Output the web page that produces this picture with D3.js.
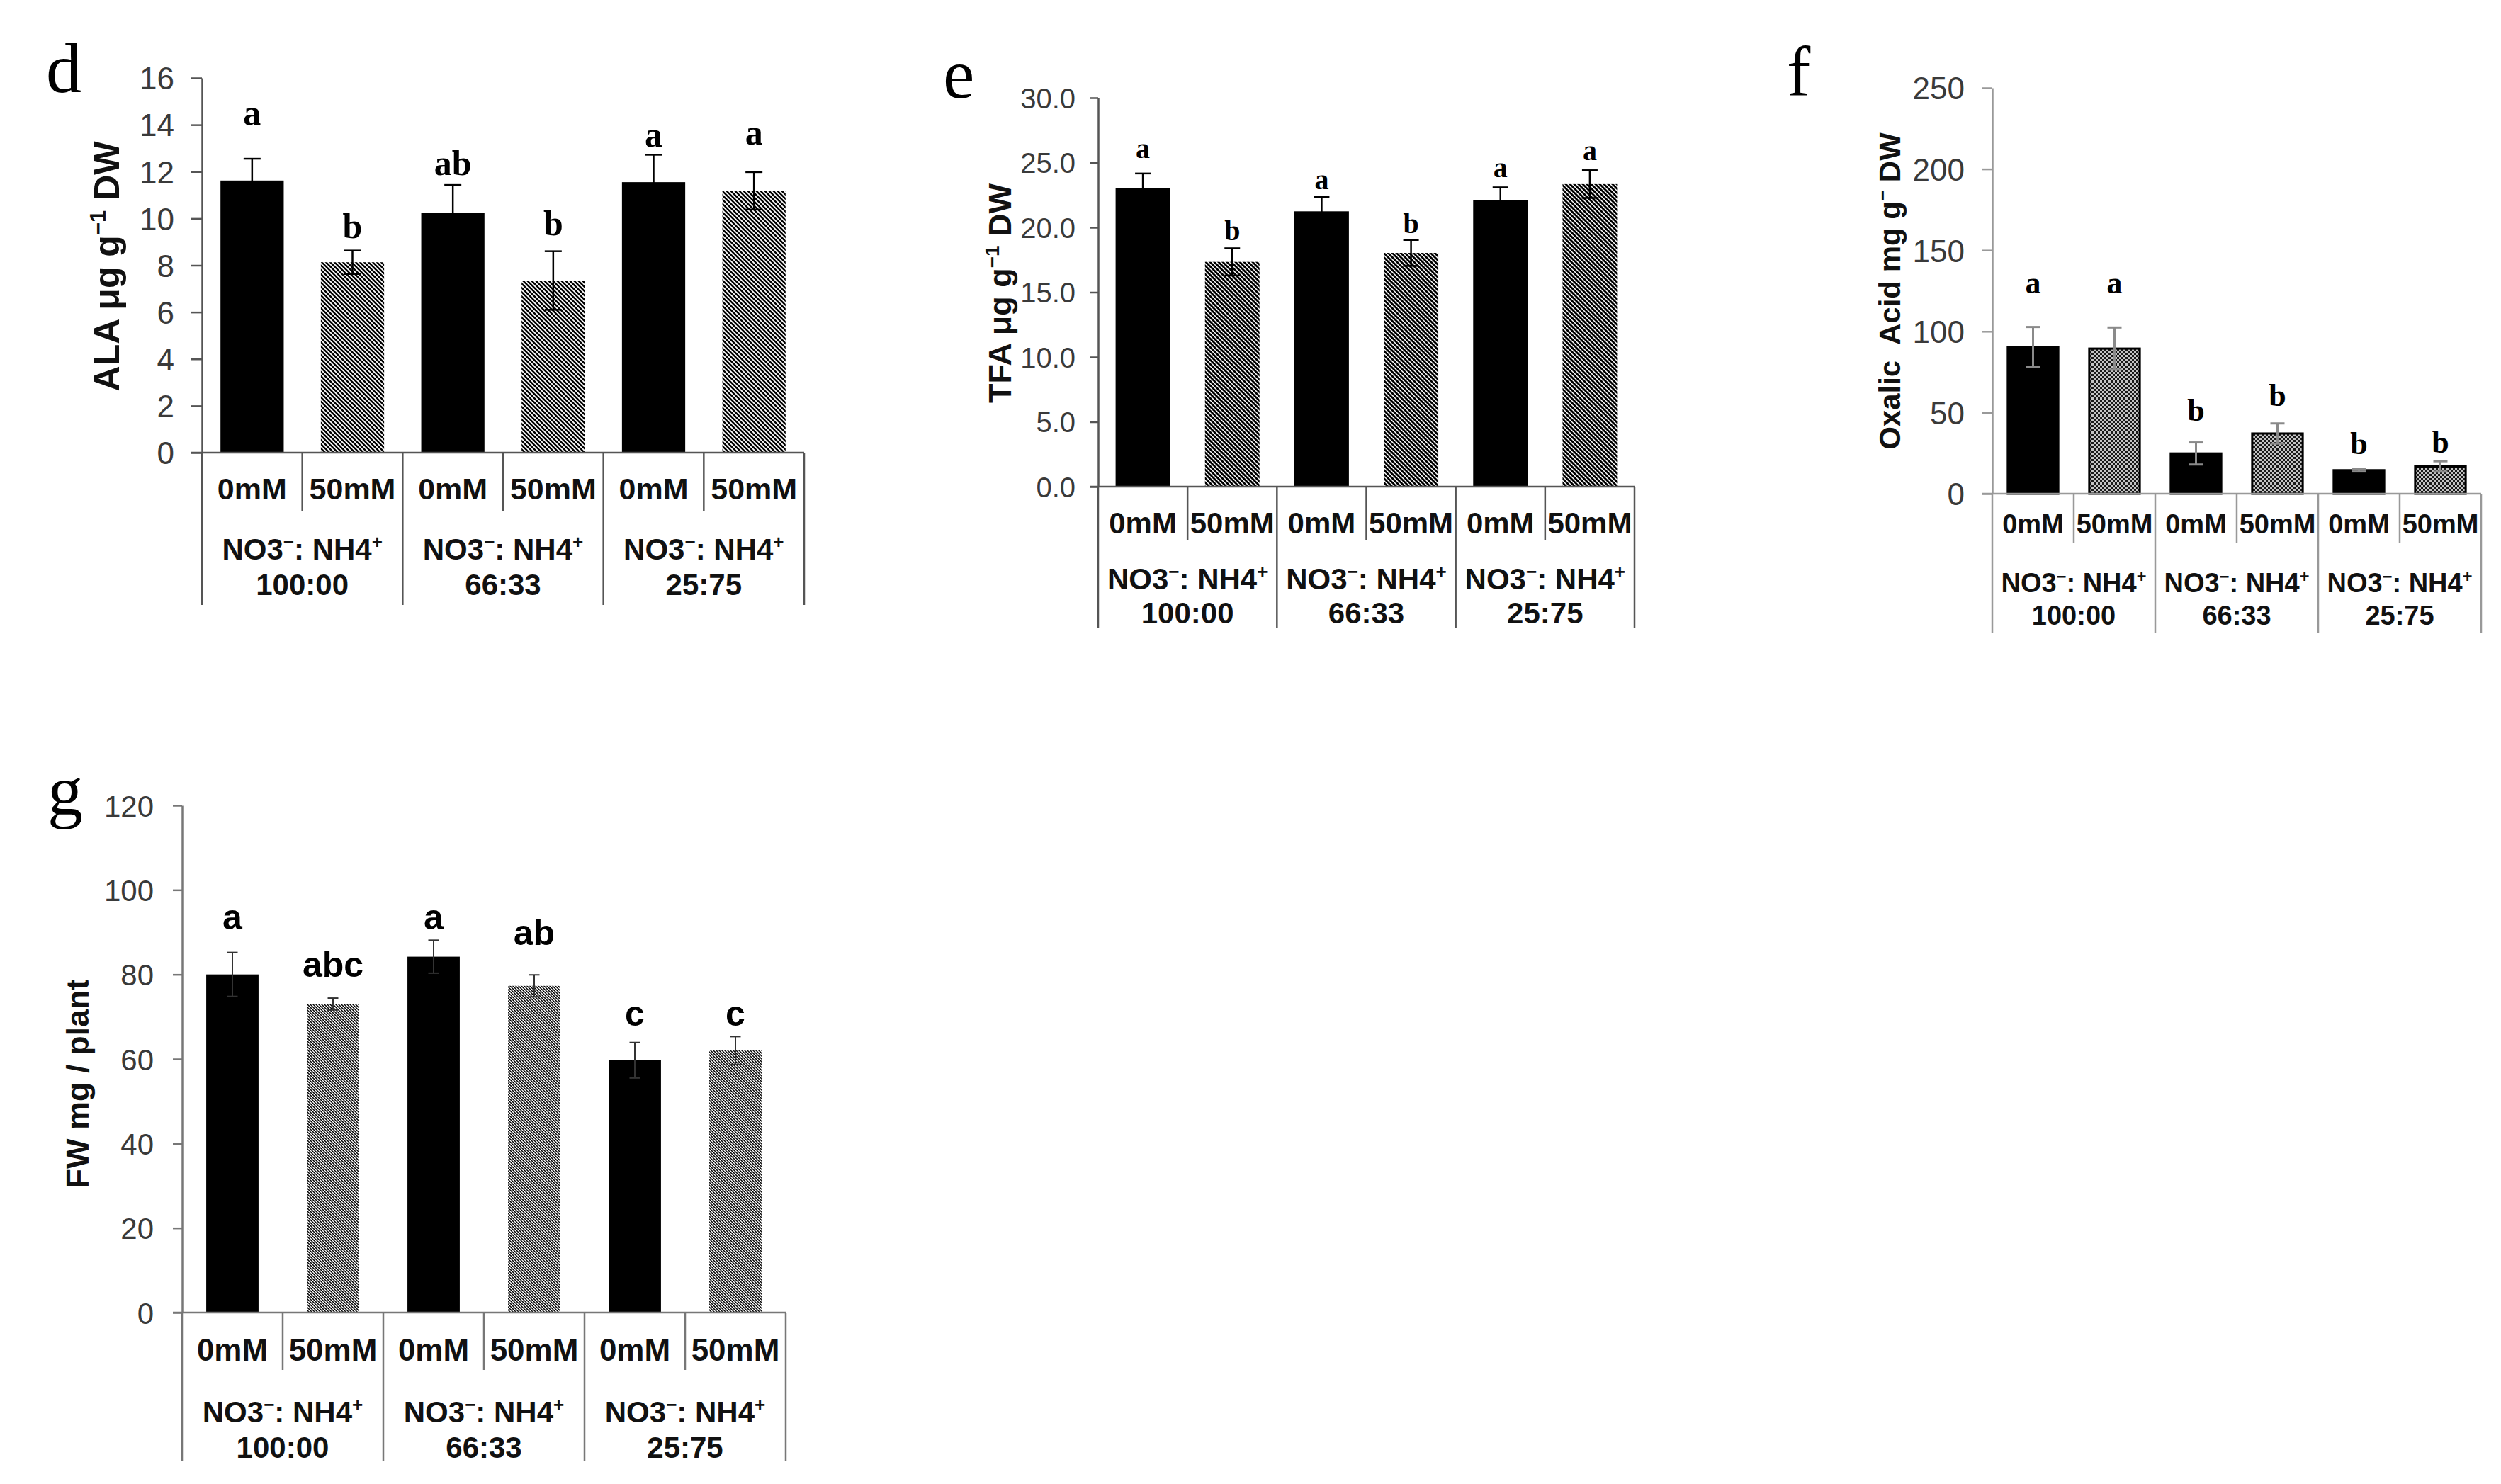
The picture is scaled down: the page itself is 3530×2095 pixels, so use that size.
<!DOCTYPE html>
<html><head><meta charset="utf-8">
<script src="https://cdn.jsdelivr.net/npm/d3@7"></script>
<style>
body{margin:0;background:#fff}
svg{display:block;background:#fff}
text{white-space:pre}
</style>
</head><body>
<svg id="chart" width="3530" height="2095"></svg>
<script>
// ---------------- data ----------------
const concentrations = ["0mM", "50mM", "0mM", "50mM", "0mM", "50mM"];
const ratioLabels = ["100:00", "66:33", "25:75"];
const ratioTitle = ["NO3", "−", ": NH4", "+"];      // odd entries are superscripts

// d: ALA
const alaValues = [11.62, 8.13, 10.24, 7.35, 11.55, 11.18];
const alaErrors = [0.93, 0.50, 1.19, 1.25, 1.17, 0.80];
const alaLetters = ["a", "b", "ab", "b", "a", "a"];
const alaLetterLevels = [14.0, 9.15, 11.85, 9.28, 13.07, 13.17];
const alaTicks = [0, 2, 4, 6, 8, 10, 12, 14, 16];
const alaTickLabels = ["0", "2", "4", "6", "8", "10", "12", "14", "16"];
const alaTitle = ["ALA μg g", "−1", " DW"];

// e: TFA
const tfaValues = [23.03, 17.34, 21.24, 18.03, 22.09, 23.34];
const tfaErrors = [1.13, 1.05, 1.10, 1.00, 1.00, 1.07];
const tfaLetters = ["a", "b", "a", "b", "a", "a"];
const tfaLetterLevels = [25.35, 19.0, 22.93, 19.57, 23.88, 25.2];
const tfaTicks = [0, 5, 10, 15, 20, 25, 30];
const tfaTickLabels = ["0.0", "5.0", "10.0", "15.0", "20.0", "25.0", "30.0"];
const tfaTitle = ["TFA μg g", "−1", " DW"];

// f: Oxalic acid
const oxaValues = [90.4, 89.4, 24.8, 37.1, 14.5, 16.8];
const oxaErrors = [12.3, 13.0, 6.8, 6.2, 0.8, 3.2];
const oxaLetters = ["a", "a", "b", "b", "b", "b"];
const oxaLetterLevels = [123.5, 123.5, 44.8, 53.9, 24.5, 25.3];
const oxaTicks = [0, 50, 100, 150, 200, 250];
const oxaTickLabels = ["0", "50", "100", "150", "200", "250"];
const oxaTitle = ["Oxalic  Acid mg g", "−", " DW"];

// g: FW
const fwValues = [80.0, 73.0, 84.2, 77.3, 59.7, 62.0];
const fwErrors = [5.2, 1.4, 3.9, 2.6, 4.2, 3.3];
const fwLetters = ["a", "abc", "a", "ab", "c", "c"];
const fwLetterLevels = [90.7, 79.5, 90.7, 87.0, 67.8, 67.8];
const fwTicks = [0, 20, 40, 60, 80, 100, 120];
const fwTickLabels = ["0", "20", "40", "60", "80", "100", "120"];
const fwTitle = ["FW mg / plant"];

// ---------------- drawing ----------------
const SANS = "'Liberation Sans', Arial, Helvetica, sans-serif";
const SERIF = "'Liberation Serif', 'Times New Roman', serif";
const svg = d3.select("#chart");
const defs = svg.append("defs");

function diagPattern(id, period, sw, bg) {
  const p = defs.append("pattern").attr("id", id).attr("patternUnits", "userSpaceOnUse")
    .attr("width", period).attr("height", period);
  p.append("rect").attr("width", period).attr("height", period).attr("fill", bg);
  p.append("path")
    .attr("d", `M0,0L${period},${period}M${-period / 2},${period / 2}L${period / 2},${period * 1.5}M${period / 2},${-period / 2}L${period * 1.5},${period / 2}`)
    .attr("stroke", "#000").attr("stroke-width", sw);
}
diagPattern("hatchD", 6, 2.4, "#fff");
diagPattern("hatchE", 6, 2.7, "#fff");
diagPattern("hatchG", 4, 1.5, "#fff");
(function () {
  const p = defs.append("pattern").attr("id", "checkF").attr("patternUnits", "userSpaceOnUse")
    .attr("width", 6).attr("height", 6);
  p.append("rect").attr("width", 6).attr("height", 6).attr("fill", "#c4c4c4");
  p.append("rect").attr("width", 3).attr("height", 3).attr("fill", "#1a1a1a");
  p.append("rect").attr("x", 3).attr("y", 3).attr("width", 3).attr("height", 3).attr("fill", "#1a1a1a");
})();

function appendParts(textSel, parts, fs) {
  const up = fs * 0.38;
  parts.forEach((t, i) => {
    const ts = textSel.append("tspan").text(t);
    if (i % 2 === 1) { ts.attr("font-size", fs * 0.62).attr("dy", -up); }
    else if (i > 0) { ts.attr("dy", up); }
  });
}

function drawPanel(cfg) {
  const L = cfg.layout;
  const g = svg.append("g");
  const n = cfg.values.length;
  const pad = 1 - L.barRatio;
  const x = d3.scaleBand().domain(d3.range(n)).range([L.axisX, L.xRight])
    .paddingInner(pad).paddingOuter(pad / 2);
  const y = d3.scaleLinear().domain([0, cfg.ticks[cfg.ticks.length - 1]]).range([L.y0, L.yTop]);
  const slotEdge = i => L.axisX + i * x.step();

  // bars
  g.selectAll("rect.bar").data(cfg.values).join("rect")
    .attr("x", (d, i) => x(i)).attr("width", x.bandwidth())
    .attr("y", d => y(d)).attr("height", d => y(0) - y(d))
    .attr("fill", (d, i) => i % 2 === 0 ? "#000" : `url(#${L.pattern})`)
    .attr("stroke", L.barStroke || "none").attr("stroke-width", L.barStroke ? 3 : 0);

  // error bars
  const eb = g.selectAll("g.err").data(cfg.values).join("g")
    .attr("stroke", L.errColor).attr("stroke-width", L.errWidth).attr("fill", "none");
  eb.append("line")
    .attr("x1", (d, i) => x(i) + x.bandwidth() / 2).attr("x2", (d, i) => x(i) + x.bandwidth() / 2)
    .attr("y1", (d, i) => y(d - cfg.errors[i])).attr("y2", (d, i) => y(d + cfg.errors[i]));
  [1, -1].forEach(s => {
    eb.append("line")
      .attr("x1", (d, i) => x(i) + x.bandwidth() / 2 - L.capW / 2)
      .attr("x2", (d, i) => x(i) + x.bandwidth() / 2 + L.capW / 2)
      .attr("y1", (d, i) => y(d + s * cfg.errors[i])).attr("y2", (d, i) => y(d + s * cfg.errors[i]));
  });

  // y axis
  const ax = g.append("g").attr("transform", `translate(${L.axisX},0)`)
    .call(d3.axisLeft(y).tickValues(cfg.ticks).tickSize(L.tickLen).tickSizeOuter(0)
      .tickPadding(L.tickPad).tickFormat((d, i) => cfg.tickLabels[i]));
  ax.select(".domain").attr("stroke", L.axisColor).attr("stroke-width", L.axisWidth);
  ax.selectAll(".tick line").attr("stroke", L.axisColor).attr("stroke-width", L.axisWidth);
  ax.selectAll(".tick text").attr("font-family", SANS).attr("font-size", L.tickFont)
    .attr("fill", "#3a3a3a").attr("dy", "0.36em");
  ax.attr("font-size", null).attr("font-family", null);

  // x axis line + category box lines
  g.append("line").attr("x1", L.axisX - L.tickLen).attr("x2", L.xRight)
    .attr("y1", y(0)).attr("y2", y(0)).attr("stroke", L.axisColor).attr("stroke-width", L.axisWidth);
  g.selectAll("line.sep").data(d3.range(n + 1)).join("line")
    .attr("x1", slotEdge).attr("x2", slotEdge)
    .attr("y1", y(0)).attr("y2", i => i % 2 === 0 ? L.sepBig : L.sepSmall)
    .attr("stroke", L.axisColor).attr("stroke-width", L.axisWidth);

  // category labels
  g.selectAll("text.cat").data(concentrations).join("text")
    .attr("x", (d, i) => slotEdge(i) + x.step() / 2).attr("y", L.catY)
    .attr("text-anchor", "middle").attr("font-family", SANS).attr("font-weight", "bold")
    .attr("font-size", L.catFont).attr("fill", "#111").text(d => d);

  // group labels
  ratioLabels.forEach((r, k) => {
    const cx = slotEdge(2 * k + 1);
    const t1 = g.append("text").attr("x", cx).attr("y", L.grpY1).attr("text-anchor", "middle")
      .attr("font-family", SANS).attr("font-weight", "bold").attr("font-size", L.grpFont).attr("fill", "#111");
    appendParts(t1, ratioTitle, L.grpFont);
    g.append("text").attr("x", cx).attr("y", L.grpY2).attr("text-anchor", "middle")
      .attr("font-family", SANS).attr("font-weight", "bold").attr("font-size", L.grpFont).attr("fill", "#111")
      .text(r);
  });

  // significance letters
  g.selectAll("text.sig").data(cfg.letters).join("text")
    .attr("x", (d, i) => x(i) + x.bandwidth() / 2).attr("y", (d, i) => y(cfg.letterLevels[i]))
    .attr("text-anchor", "middle").attr("font-family", L.letterSerif ? SERIF : SANS)
    .attr("font-weight", "bold").attr("font-size", L.letterFont).attr("fill", "#000").text(d => d);

  // y title
  const tt = g.append("text")
    .attr("transform", `translate(${L.titleX + L.titleFont * 0.36},${L.titleY}) rotate(-90)`)
    .attr("text-anchor", "middle").attr("font-family", SANS).attr("font-weight", "bold")
    .attr("font-size", L.titleFont).attr("fill", "#111");
  appendParts(tt, cfg.title, L.titleFont);

  // panel letter
  g.append("text").attr("x", L.labelX).attr("y", L.labelY).attr("font-family", SERIF)
    .attr("font-size", 100).attr("fill", "#000").text(cfg.key);
}

drawPanel({
  key: "d", values: alaValues, errors: alaErrors, letters: alaLetters, letterLevels: alaLetterLevels,
  ticks: alaTicks, tickLabels: alaTickLabels, title: alaTitle,
  layout: { axisX: 285, yTop: 110, y0: 639, xRight: 1135, tickLen: 15, tickPad: 24, sepSmall: 721, sepBig: 854,
    catY: 705, grpY1: 790, grpY2: 840, catFont: 43, grpFont: 42, tickFont: 44,
    titleX: 150, titleY: 376, titleFont: 50, labelX: 65, labelY: 130, barRatio: 0.63,
    letterFont: 50, letterSerif: true, axisColor: "#555", axisWidth: 2.5, errColor: "#000", errWidth: 2.5,
    capW: 24, pattern: "hatchD", barStroke: null }
});
drawPanel({
  key: "e", values: tfaValues, errors: tfaErrors, letters: tfaLetters, letterLevels: tfaLetterLevels,
  ticks: tfaTicks, tickLabels: tfaTickLabels, title: tfaTitle,
  layout: { axisX: 1550, yTop: 138, y0: 687, xRight: 2307, tickLen: 11, tickPad: 21, sepSmall: 763, sepBig: 886,
    catY: 753, grpY1: 832, grpY2: 880, catFont: 42, grpFont: 42, tickFont: 40,
    titleX: 1411, titleY: 414, titleFont: 45, labelX: 1331, labelY: 138, barRatio: 0.61,
    letterFont: 40, letterSerif: true, axisColor: "#555", axisWidth: 2.5, errColor: "#000", errWidth: 2.5,
    capW: 22, pattern: "hatchE", barStroke: null }
});
drawPanel({
  key: "f", values: oxaValues, errors: oxaErrors, letters: oxaLetters, letterLevels: oxaLetterLevels,
  ticks: oxaTicks, tickLabels: oxaTickLabels, title: oxaTitle,
  layout: { axisX: 2812, yTop: 124, y0: 697, xRight: 3502, tickLen: 14, tickPad: 25, sepSmall: 767, sepBig: 894,
    catY: 753, grpY1: 836, grpY2: 882, catFont: 38, grpFont: 38, tickFont: 44,
    titleX: 2667, titleY: 411, titleFont: 42, labelX: 2522, labelY: 135, barRatio: 0.62,
    letterFont: 44, letterSerif: true, axisColor: "#999", axisWidth: 2.5, errColor: "#8a8a8a", errWidth: 3,
    capW: 20, pattern: "checkF", barStroke: "#000" }
});
drawPanel({
  key: "g", values: fwValues, errors: fwErrors, letters: fwLetters, letterLevels: fwLetterLevels,
  ticks: fwTicks, tickLabels: fwTickLabels, title: fwTitle,
  layout: { axisX: 257, yTop: 1137, y0: 1853, xRight: 1109, tickLen: 13, tickPad: 27, sepSmall: 1934, sepBig: 2062,
    catY: 1921, grpY1: 2008, grpY2: 2058, catFont: 44, grpFont: 42, tickFont: 42,
    titleX: 109, titleY: 1530, titleFont: 45, labelX: 67, labelY: 1150, barRatio: 0.52,
    letterFont: 50, letterSerif: false, axisColor: "#777", axisWidth: 2.5, errColor: "#333", errWidth: 2,
    capW: 15, pattern: "hatchG", barStroke: null }
});
</script>
</body></html>
